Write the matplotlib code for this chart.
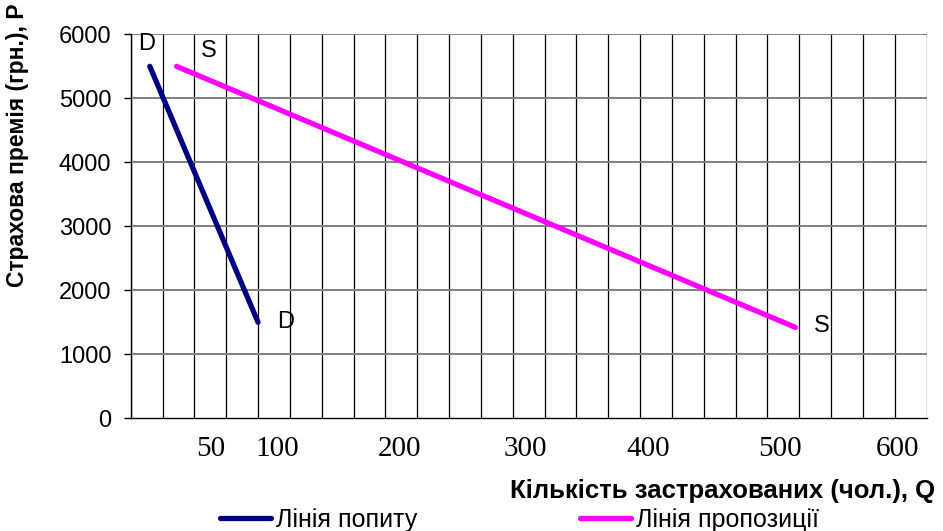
import matplotlib
matplotlib.use("Agg")
import matplotlib.pyplot as plt
from matplotlib.lines import Line2D
import numpy as np

# ---- data ----
demand_q = [15, 100]
demand_p = [5500, 1500]
supply_q = [36, 522]
supply_p = [5500, 1420]

y_ticks = [0, 1000, 2000, 3000, 4000, 5000, 6000]
x_tick_labels = ["50", "100", "200", "300", "400", "500", "600"]
x_tick_pos = [63, 115, 211, 310, 406, 510, 602]   # where the labels sit on the Q axis
x_max = 625
x_grid_step = 25

y_label = "Страхова премія (грн.), Р"
x_label = "Кількість застрахованих (чол.), Q"
demand_name = "Лінія попиту"
supply_name = "Лінія пропозиції"

plt.rcParams["font.family"] = ["Liberation Sans", "DejaVu Sans"]

fig = plt.figure(figsize=(9.43, 5.31), dpi=100)
ax = fig.add_axes([0.1386, 0.2122, 0.9827 - 0.1386, 0.9354 - 0.2122])

ax.set_xlim(0, x_max)
ax.set_ylim(0, 6000)

# vertical grid (black, thin)
for xv in np.arange(0, x_max + 1, x_grid_step):
    ax.axvline(xv, color="black", lw=0.9, zorder=1)
# horizontal grid (grey)
for yv in y_ticks[1:]:
    ax.axhline(yv, color="#808080", lw=1.4, zorder=1)

for s in ["top", "right"]:
    ax.spines[s].set_visible(False)
ax.spines["left"].set_color("black")
ax.spines["bottom"].set_color("black")
ax.spines["left"].set_linewidth(1.0)
ax.spines["bottom"].set_linewidth(1.0)

ax.set_yticks(y_ticks)
ax.set_yticklabels([str(v) for v in y_ticks], fontsize=17)
ax.tick_params(axis="y", length=5, width=1, pad=9, color="black")

ax.set_xticks(x_tick_pos)
ax.set_xticklabels(x_tick_labels, fontsize=21, family=["Liberation Serif", "DejaVu Serif"])
ax.tick_params(axis="x", length=0, pad=13)

ax.plot(demand_q, demand_p, color="#000080", lw=3.8, solid_capstyle="round", zorder=3)
ax.plot(supply_q, supply_p, color="#FF00FF", lw=3.8, solid_capstyle="round", zorder=3)

kw = dict(textcoords="offset points", fontsize=17, ha="center", va="center", annotation_clip=False)
ax.annotate("D", (demand_q[0], demand_p[0]), xytext=(-2, 16), **kw)
ax.annotate("S", (supply_q[0], supply_p[0]), xytext=(23, 11), **kw)
ax.annotate("D", (demand_q[-1], demand_p[-1]), xytext=(20, 0), **kw)
ax.annotate("S", (supply_q[-1], supply_p[-1]), xytext=(19, 1), **kw)

fig.text(18 / 943, 1 - 145 / 531, y_label, rotation=90, ha="center", va="center",
         fontsize=16.5, fontweight="bold")
fig.text(935 / 943, 1 - 491 / 531, x_label, ha="right", va="center",
         fontsize=18.5, fontweight="bold")

h1 = Line2D([], [], color="#000080", lw=3.8, solid_capstyle="round")
h2 = Line2D([], [], color="#FF00FF", lw=3.8, solid_capstyle="round")
leg_kw = dict(loc="center left", frameon=False, fontsize=18, handlelength=2.04,
              handletextpad=0.2, borderpad=0, borderaxespad=0)
l1 = fig.legend([h1], [demand_name], bbox_to_anchor=(220 / 943, 1 - 520 / 531), **leg_kw)
l2 = fig.legend([h2], [supply_name], bbox_to_anchor=(580 / 943, 1 - 520 / 531), **leg_kw)

fig.savefig("out.png", dpi=100)
